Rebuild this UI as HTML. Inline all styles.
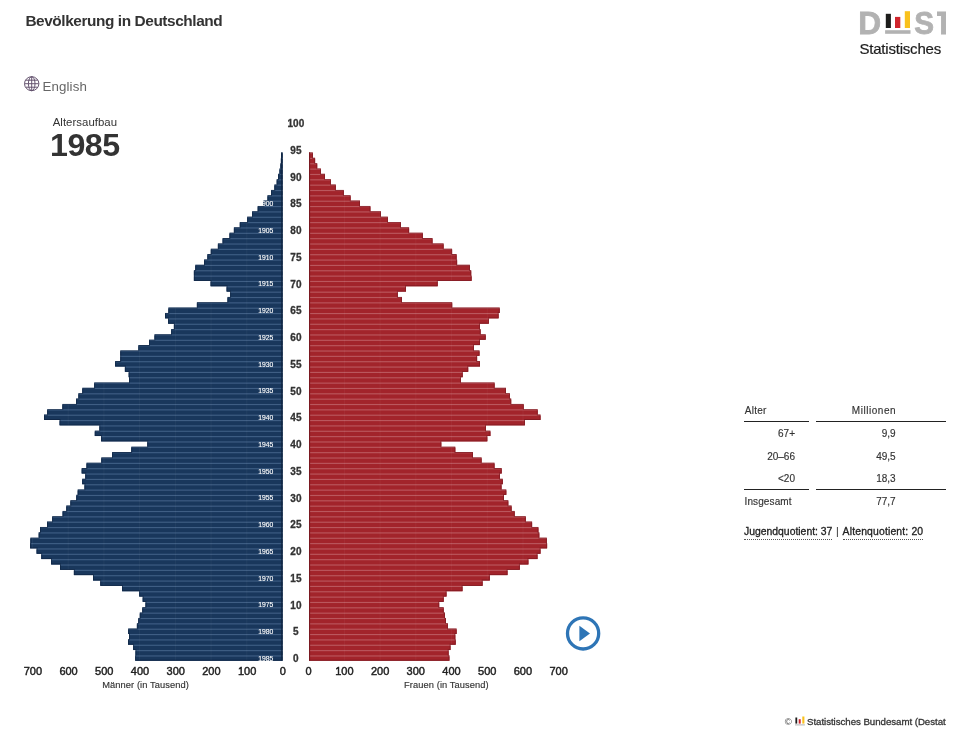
<!DOCTYPE html>
<html lang="de">
<head>
<meta charset="utf-8">
<title>Bevölkerung in Deutschland</title>
<style>
html,body{margin:0;padding:0;background:#fff;}
body{width:964px;height:750px;overflow:hidden;position:relative;font-family:"Liberation Sans",sans-serif;color:#333;}
#wrap{position:absolute;left:0;top:0;width:946px;height:750px;overflow:hidden;will-change:transform;}
.abs{position:absolute;white-space:nowrap;line-height:1;}
h1{margin:0;font-size:15.4px;font-weight:bold;letter-spacing:-0.42px;color:#333;}
.chart{position:absolute;left:0;top:0;}
.chart text{font-family:"Liberation Sans",sans-serif;}
.yl text{font-size:6.8px;fill:#fff;text-anchor:end;stroke:#fff;stroke-width:0.12px;}
.al text{font-size:10px;font-weight:bold;fill:#333;text-anchor:middle;stroke:#333;stroke-width:0.3px;}
.xl text{font-size:11px;fill:#222;text-anchor:middle;stroke:#222;stroke-width:0.45px;}
.xt{font-size:9.3px;fill:#333;text-anchor:middle;letter-spacing:0.08px;stroke:#333;stroke-width:0.15px;}
table{border-collapse:separate;border-spacing:7px 0;font-size:10px;color:#333;table-layout:fixed;width:215.4px;-webkit-text-stroke:0.15px #333;}
td,th{font-weight:normal;padding:1.6px 0 0 0;height:21.1px;vertical-align:middle;box-sizing:content-box;}
.l{text-align:left;}.r{text-align:right;}
.bb{border-bottom:1.2px solid #222;height:19.9px;}
.pa{padding-right:14.4px;}.pm{padding-right:49.9px;}
.q{border-bottom:1px dotted #555;padding-bottom:2px;-webkit-text-stroke:0.3px #222;}
</style>
</head>
<body>
<div id="wrap">
<h1 class="abs" style="left:25.4px;top:12.5px;">Bevölkerung in Deutschland</h1>

<svg class="abs" style="left:855px;top:5px;" width="120" height="60" viewBox="855 5 120 60">
<defs><clipPath id="ct"><rect x="937" y="0" width="40" height="60"/></clipPath></defs>
<g font-family="Liberation Sans, sans-serif" font-weight="bold" font-size="31.7" fill="#b2b2b2" stroke="#b2b2b2" stroke-width="0.8" stroke-linejoin="miter">
<text x="858.3" y="34" textLength="22.9" lengthAdjust="spacingAndGlyphs">D</text>
<text x="914.3" y="34" textLength="19.8" lengthAdjust="spacingAndGlyphs">S</text>
<text x="934" y="34" clip-path="url(#ct)">T</text>
</g>
<rect x="885.8" y="13.8" width="5.1" height="14.2" fill="#1d1d1b"/>
<rect x="895" y="16.9" width="5.3" height="11.1" fill="#d0252d"/>
<rect x="904.8" y="11.2" width="5.2" height="16.8" fill="#f9c11d"/>
<rect x="885.1" y="30.2" width="25.4" height="3.6" fill="#b2b2b2"/>
<text x="859.4" y="53.5" font-family="Liberation Sans, sans-serif" font-size="15" fill="#1c1c1c" stroke="#1c1c1c" stroke-width="0.2" letter-spacing="-0.2">Statistisches</text>
</svg>

<svg class="abs" style="left:23px;top:75px;" width="17" height="17" viewBox="0 0 17 17" fill="none" stroke="#5f4d69" stroke-width="0.95">
<ellipse cx="8.7" cy="8.7" rx="7.2" ry="7"/>
<ellipse cx="8.7" cy="8.7" rx="3.3" ry="7"/>
<line x1="8.7" y1="1.7" x2="8.7" y2="15.7"/>
<line x1="1.7" y1="8.7" x2="15.7" y2="8.7"/>
<path d="M2.7 5.2 H14.7 M2.7 12.2 H14.7"/>
</svg>
<div class="abs" style="left:42.5px;top:79.6px;font-size:13.3px;color:#666;letter-spacing:0.12px;">English</div>

<div class="abs" style="left:52.7px;top:116.7px;font-size:11.4px;color:#333;letter-spacing:0.04px;">Altersaufbau</div>
<div class="abs" style="left:50px;top:129px;font-size:32.2px;font-weight:bold;color:#333;letter-spacing:-0.5px;">1985</div>

<svg class="chart" width="964" height="750" viewBox="0 0 964 750">
<defs><clipPath id="cm">
<rect x="135.2" y="655.35" width="147.3" height="5.35"/>
<rect x="135.5" y="650" width="147" height="5.35"/>
<rect x="133.2" y="644.65" width="149.3" height="5.35"/>
<rect x="128" y="639.3" width="154.5" height="5.35"/>
<rect x="129" y="633.95" width="153.5" height="5.35"/>
<rect x="128.2" y="628.6" width="154.3" height="5.35"/>
<rect x="136.9" y="623.25" width="145.6" height="5.35"/>
<rect x="138.3" y="617.9" width="144.2" height="5.35"/>
<rect x="139.8" y="612.55" width="142.7" height="5.35"/>
<rect x="142.3" y="607.2" width="140.2" height="5.35"/>
<rect x="145.5" y="601.85" width="137" height="5.35"/>
<rect x="142.7" y="596.5" width="139.8" height="5.35"/>
<rect x="139.2" y="591.15" width="143.3" height="5.35"/>
<rect x="122.1" y="585.8" width="160.4" height="5.35"/>
<rect x="100.3" y="580.45" width="182.2" height="5.35"/>
<rect x="93" y="575.1" width="189.5" height="5.35"/>
<rect x="73.9" y="569.75" width="208.6" height="5.35"/>
<rect x="60" y="564.4" width="222.5" height="5.35"/>
<rect x="51.1" y="559.05" width="231.4" height="5.35"/>
<rect x="41.3" y="553.7" width="241.2" height="5.35"/>
<rect x="36.6" y="548.35" width="245.9" height="5.35"/>
<rect x="30.1" y="543" width="252.4" height="5.35"/>
<rect x="30.4" y="537.65" width="252.1" height="5.35"/>
<rect x="38.7" y="532.3" width="243.8" height="5.35"/>
<rect x="40" y="526.95" width="242.5" height="5.35"/>
<rect x="47" y="521.6" width="235.5" height="5.35"/>
<rect x="52.2" y="516.25" width="230.3" height="5.35"/>
<rect x="62.6" y="510.9" width="219.9" height="5.35"/>
<rect x="66.3" y="505.55" width="216.2" height="5.35"/>
<rect x="70.4" y="500.2" width="212.1" height="5.35"/>
<rect x="76.3" y="494.85" width="206.2" height="5.35"/>
<rect x="77.7" y="489.5" width="204.8" height="5.35"/>
<rect x="84.5" y="484.15" width="198" height="5.35"/>
<rect x="82.2" y="478.8" width="200.3" height="5.35"/>
<rect x="85.3" y="473.45" width="197.2" height="5.35"/>
<rect x="81.7" y="468.1" width="200.8" height="5.35"/>
<rect x="86.5" y="462.75" width="196" height="5.35"/>
<rect x="101.3" y="457.4" width="181.2" height="5.35"/>
<rect x="112.1" y="452.05" width="170.4" height="5.35"/>
<rect x="131.3" y="446.7" width="151.2" height="5.35"/>
<rect x="147.3" y="441.35" width="135.2" height="5.35"/>
<rect x="101.1" y="436" width="181.4" height="5.35"/>
<rect x="94.8" y="430.65" width="187.7" height="5.35"/>
<rect x="99.4" y="425.3" width="183.1" height="5.35"/>
<rect x="59.6" y="419.95" width="222.9" height="5.35"/>
<rect x="44" y="414.6" width="238.5" height="5.35"/>
<rect x="47.2" y="409.25" width="235.3" height="5.35"/>
<rect x="62.4" y="403.9" width="220.1" height="5.35"/>
<rect x="76.1" y="398.55" width="206.4" height="5.35"/>
<rect x="78.4" y="393.2" width="204.1" height="5.35"/>
<rect x="82.3" y="387.85" width="200.2" height="5.35"/>
<rect x="94.2" y="382.5" width="188.3" height="5.35"/>
<rect x="129" y="377.15" width="153.5" height="5.35"/>
<rect x="128.7" y="371.8" width="153.8" height="5.35"/>
<rect x="124.9" y="366.45" width="157.6" height="5.35"/>
<rect x="115.1" y="361.1" width="167.4" height="5.35"/>
<rect x="120.3" y="355.75" width="162.2" height="5.35"/>
<rect x="120.3" y="350.4" width="162.2" height="5.35"/>
<rect x="138.4" y="345.05" width="144.1" height="5.35"/>
<rect x="149" y="339.7" width="133.5" height="5.35"/>
<rect x="154.5" y="334.35" width="128" height="5.35"/>
<rect x="171.2" y="329" width="111.3" height="5.35"/>
<rect x="173.9" y="323.65" width="108.6" height="5.35"/>
<rect x="168.1" y="318.3" width="114.4" height="5.35"/>
<rect x="165" y="312.95" width="117.5" height="5.35"/>
<rect x="168.4" y="307.6" width="114.1" height="5.35"/>
<rect x="196.9" y="302.25" width="85.6" height="5.35"/>
<rect x="227.5" y="296.9" width="55" height="5.35"/>
<rect x="230.2" y="291.55" width="52.3" height="5.35"/>
<rect x="226.6" y="286.2" width="55.9" height="5.35"/>
<rect x="210.6" y="280.85" width="71.9" height="5.35"/>
<rect x="193.9" y="275.5" width="88.6" height="5.35"/>
<rect x="193.9" y="270.15" width="88.6" height="5.35"/>
<rect x="195.3" y="264.8" width="87.2" height="5.35"/>
<rect x="204.1" y="259.45" width="78.4" height="5.35"/>
<rect x="207.4" y="254.1" width="75.1" height="5.35"/>
<rect x="210.8" y="248.75" width="71.7" height="5.35"/>
<rect x="217.9" y="243.4" width="64.6" height="5.35"/>
<rect x="222.6" y="238.05" width="59.9" height="5.35"/>
<rect x="229.5" y="232.7" width="53" height="5.35"/>
<rect x="233.9" y="227.35" width="48.6" height="5.35"/>
<rect x="239.8" y="222" width="42.7" height="5.35"/>
<rect x="247.2" y="216.65" width="35.3" height="5.35"/>
<rect x="252.1" y="211.3" width="30.4" height="5.35"/>
<rect x="257.7" y="205.95" width="24.8" height="5.35"/>
<rect x="263.5" y="200.6" width="19" height="5.35"/>
<rect x="267.5" y="195.25" width="15" height="5.35"/>
<rect x="271.1" y="189.9" width="11.4" height="5.35"/>
<rect x="274.4" y="184.55" width="8.1" height="5.35"/>
<rect x="276.7" y="179.2" width="5.8" height="5.35"/>
<rect x="278.1" y="173.85" width="4.4" height="5.35"/>
<rect x="279.5" y="168.5" width="3" height="5.35"/>
<rect x="280.4" y="163.15" width="2.1" height="5.35"/>
<rect x="280.9" y="157.8" width="1.6" height="5.35"/>
<rect x="281.2" y="152.45" width="1.3" height="5.35"/>
</clipPath><clipPath id="cf">
<rect x="309" y="655.35" width="140.4" height="5.35"/>
<rect x="309" y="650" width="139.6" height="5.35"/>
<rect x="309" y="644.65" width="141.5" height="5.35"/>
<rect x="309" y="639.3" width="146.7" height="5.35"/>
<rect x="309" y="633.95" width="146.3" height="5.35"/>
<rect x="309" y="628.6" width="147.6" height="5.35"/>
<rect x="309" y="623.25" width="138.9" height="5.35"/>
<rect x="309" y="617.9" width="137" height="5.35"/>
<rect x="309" y="612.55" width="136" height="5.35"/>
<rect x="309" y="607.2" width="134.7" height="5.35"/>
<rect x="309" y="601.85" width="130.2" height="5.35"/>
<rect x="309" y="596.5" width="134.7" height="5.35"/>
<rect x="309" y="591.15" width="137.5" height="5.35"/>
<rect x="309" y="585.8" width="153.5" height="5.35"/>
<rect x="309" y="580.45" width="173.6" height="5.35"/>
<rect x="309" y="575.1" width="180.8" height="5.35"/>
<rect x="309" y="569.75" width="198.5" height="5.35"/>
<rect x="309" y="564.4" width="210.8" height="5.35"/>
<rect x="309" y="559.05" width="219.4" height="5.35"/>
<rect x="309" y="553.7" width="228.5" height="5.35"/>
<rect x="309" y="548.35" width="231.5" height="5.35"/>
<rect x="309" y="543" width="238.1" height="5.35"/>
<rect x="309" y="537.65" width="237.8" height="5.35"/>
<rect x="309" y="532.3" width="230.3" height="5.35"/>
<rect x="309" y="526.95" width="229.4" height="5.35"/>
<rect x="309" y="521.6" width="223.1" height="5.35"/>
<rect x="309" y="516.25" width="216.8" height="5.35"/>
<rect x="309" y="510.9" width="205.7" height="5.35"/>
<rect x="309" y="505.55" width="202.6" height="5.35"/>
<rect x="309" y="500.2" width="199.3" height="5.35"/>
<rect x="309" y="494.85" width="195" height="5.35"/>
<rect x="309" y="489.5" width="197.3" height="5.35"/>
<rect x="309" y="484.15" width="192.5" height="5.35"/>
<rect x="309" y="478.8" width="193.8" height="5.35"/>
<rect x="309" y="473.45" width="191" height="5.35"/>
<rect x="309" y="468.1" width="192.7" height="5.35"/>
<rect x="309" y="462.75" width="185.5" height="5.35"/>
<rect x="309" y="457.4" width="172.6" height="5.35"/>
<rect x="309" y="452.05" width="164" height="5.35"/>
<rect x="309" y="446.7" width="146.3" height="5.35"/>
<rect x="309" y="441.35" width="132.3" height="5.35"/>
<rect x="309" y="436" width="178.3" height="5.35"/>
<rect x="309" y="430.65" width="181.4" height="5.35"/>
<rect x="309" y="425.3" width="177" height="5.35"/>
<rect x="309" y="419.95" width="215.9" height="5.35"/>
<rect x="309" y="414.6" width="231.5" height="5.35"/>
<rect x="309" y="409.25" width="228.7" height="5.35"/>
<rect x="309" y="403.9" width="214.7" height="5.35"/>
<rect x="309" y="398.55" width="202.2" height="5.35"/>
<rect x="309" y="393.2" width="200.9" height="5.35"/>
<rect x="309" y="387.85" width="197" height="5.35"/>
<rect x="309" y="382.5" width="185.6" height="5.35"/>
<rect x="309" y="377.15" width="151.9" height="5.35"/>
<rect x="309" y="371.8" width="153.7" height="5.35"/>
<rect x="309" y="366.45" width="159.2" height="5.35"/>
<rect x="309" y="361.1" width="171" height="5.35"/>
<rect x="309" y="355.75" width="168.1" height="5.35"/>
<rect x="309" y="350.4" width="170.5" height="5.35"/>
<rect x="309" y="345.05" width="165" height="5.35"/>
<rect x="309" y="339.7" width="170.9" height="5.35"/>
<rect x="309" y="334.35" width="176.7" height="5.35"/>
<rect x="309" y="329" width="171.6" height="5.35"/>
<rect x="309" y="323.65" width="170.9" height="5.35"/>
<rect x="309" y="318.3" width="179.8" height="5.35"/>
<rect x="309" y="312.95" width="189.6" height="5.35"/>
<rect x="309" y="307.6" width="190.7" height="5.35"/>
<rect x="309" y="302.25" width="143.2" height="5.35"/>
<rect x="309" y="296.9" width="93" height="5.35"/>
<rect x="309" y="291.55" width="88.8" height="5.35"/>
<rect x="309" y="286.2" width="97" height="5.35"/>
<rect x="309" y="280.85" width="128.7" height="5.35"/>
<rect x="309" y="275.5" width="162.6" height="5.35"/>
<rect x="309" y="270.15" width="162.2" height="5.35"/>
<rect x="309" y="264.8" width="160.9" height="5.35"/>
<rect x="309" y="259.45" width="148.1" height="5.35"/>
<rect x="309" y="254.1" width="147.6" height="5.35"/>
<rect x="309" y="248.75" width="143.1" height="5.35"/>
<rect x="309" y="243.4" width="134.6" height="5.35"/>
<rect x="309" y="238.05" width="123.5" height="5.35"/>
<rect x="309" y="232.7" width="113.8" height="5.35"/>
<rect x="309" y="227.35" width="100.1" height="5.35"/>
<rect x="309" y="222" width="91.9" height="5.35"/>
<rect x="309" y="216.65" width="78.9" height="5.35"/>
<rect x="309" y="211.3" width="72" height="5.35"/>
<rect x="309" y="205.95" width="61.4" height="5.35"/>
<rect x="309" y="200.6" width="51" height="5.35"/>
<rect x="309" y="195.25" width="41.6" height="5.35"/>
<rect x="309" y="189.9" width="34.8" height="5.35"/>
<rect x="309" y="184.55" width="26.8" height="5.35"/>
<rect x="309" y="179.2" width="21.9" height="5.35"/>
<rect x="309" y="173.85" width="16" height="5.35"/>
<rect x="309" y="168.5" width="11.9" height="5.35"/>
<rect x="309" y="163.15" width="8.2" height="5.35"/>
<rect x="309" y="157.8" width="6.1" height="5.35"/>
<rect x="309" y="152.45" width="3.9" height="5.35"/>
</clipPath></defs>
<path d="M282.5 660.7 L135.2 660.7 L135.2 655.35 L135.5 655.35 L135.5 650 L133.2 650 L133.2 644.65 L128 644.65 L128 639.3 L129 639.3 L129 633.95 L128.2 633.95 L128.2 628.6 L136.9 628.6 L136.9 623.25 L138.3 623.25 L138.3 617.9 L139.8 617.9 L139.8 612.55 L142.3 612.55 L142.3 607.2 L145.5 607.2 L145.5 601.85 L142.7 601.85 L142.7 596.5 L139.2 596.5 L139.2 591.15 L122.1 591.15 L122.1 585.8 L100.3 585.8 L100.3 580.45 L93 580.45 L93 575.1 L73.9 575.1 L73.9 569.75 L60 569.75 L60 564.4 L51.1 564.4 L51.1 559.05 L41.3 559.05 L41.3 553.7 L36.6 553.7 L36.6 548.35 L30.1 548.35 L30.1 543 L30.4 543 L30.4 537.65 L38.7 537.65 L38.7 532.3 L40 532.3 L40 526.95 L47 526.95 L47 521.6 L52.2 521.6 L52.2 516.25 L62.6 516.25 L62.6 510.9 L66.3 510.9 L66.3 505.55 L70.4 505.55 L70.4 500.2 L76.3 500.2 L76.3 494.85 L77.7 494.85 L77.7 489.5 L84.5 489.5 L84.5 484.15 L82.2 484.15 L82.2 478.8 L85.3 478.8 L85.3 473.45 L81.7 473.45 L81.7 468.1 L86.5 468.1 L86.5 462.75 L101.3 462.75 L101.3 457.4 L112.1 457.4 L112.1 452.05 L131.3 452.05 L131.3 446.7 L147.3 446.7 L147.3 441.35 L101.1 441.35 L101.1 436 L94.8 436 L94.8 430.65 L99.4 430.65 L99.4 425.3 L59.6 425.3 L59.6 419.95 L44 419.95 L44 414.6 L47.2 414.6 L47.2 409.25 L62.4 409.25 L62.4 403.9 L76.1 403.9 L76.1 398.55 L78.4 398.55 L78.4 393.2 L82.3 393.2 L82.3 387.85 L94.2 387.85 L94.2 382.5 L129 382.5 L129 377.15 L128.7 377.15 L128.7 371.8 L124.9 371.8 L124.9 366.45 L115.1 366.45 L115.1 361.1 L120.3 361.1 L120.3 355.75 L120.3 355.75 L120.3 350.4 L138.4 350.4 L138.4 345.05 L149 345.05 L149 339.7 L154.5 339.7 L154.5 334.35 L171.2 334.35 L171.2 329 L173.9 329 L173.9 323.65 L168.1 323.65 L168.1 318.3 L165 318.3 L165 312.95 L168.4 312.95 L168.4 307.6 L196.9 307.6 L196.9 302.25 L227.5 302.25 L227.5 296.9 L230.2 296.9 L230.2 291.55 L226.6 291.55 L226.6 286.2 L210.6 286.2 L210.6 280.85 L193.9 280.85 L193.9 275.5 L193.9 275.5 L193.9 270.15 L195.3 270.15 L195.3 264.8 L204.1 264.8 L204.1 259.45 L207.4 259.45 L207.4 254.1 L210.8 254.1 L210.8 248.75 L217.9 248.75 L217.9 243.4 L222.6 243.4 L222.6 238.05 L229.5 238.05 L229.5 232.7 L233.9 232.7 L233.9 227.35 L239.8 227.35 L239.8 222 L247.2 222 L247.2 216.65 L252.1 216.65 L252.1 211.3 L257.7 211.3 L257.7 205.95 L263.5 205.95 L263.5 200.6 L267.5 200.6 L267.5 195.25 L271.1 195.25 L271.1 189.9 L274.4 189.9 L274.4 184.55 L276.7 184.55 L276.7 179.2 L278.1 179.2 L278.1 173.85 L279.5 173.85 L279.5 168.5 L280.4 168.5 L280.4 163.15 L280.9 163.15 L280.9 157.8 L281.2 157.8 L281.2 152.45 L282.5 152.45 Z" fill="#3f5e84"/>
<g fill="#19375c">
<rect x="135.2" y="656.55" width="147.3" height="4.2"/>
<rect x="135.5" y="651.2" width="147" height="4.2"/>
<rect x="133.2" y="645.85" width="149.3" height="4.2"/>
<rect x="128" y="640.5" width="154.5" height="4.2"/>
<rect x="129" y="635.15" width="153.5" height="4.2"/>
<rect x="128.2" y="629.8" width="154.3" height="4.2"/>
<rect x="136.9" y="624.45" width="145.6" height="4.2"/>
<rect x="138.3" y="619.1" width="144.2" height="4.2"/>
<rect x="139.8" y="613.75" width="142.7" height="4.2"/>
<rect x="142.3" y="608.4" width="140.2" height="4.2"/>
<rect x="145.5" y="603.05" width="137" height="4.2"/>
<rect x="142.7" y="597.7" width="139.8" height="4.2"/>
<rect x="139.2" y="592.35" width="143.3" height="4.2"/>
<rect x="122.1" y="587" width="160.4" height="4.2"/>
<rect x="100.3" y="581.65" width="182.2" height="4.2"/>
<rect x="93" y="576.3" width="189.5" height="4.2"/>
<rect x="73.9" y="570.95" width="208.6" height="4.2"/>
<rect x="60" y="565.6" width="222.5" height="4.2"/>
<rect x="51.1" y="560.25" width="231.4" height="4.2"/>
<rect x="41.3" y="554.9" width="241.2" height="4.2"/>
<rect x="36.6" y="549.55" width="245.9" height="4.2"/>
<rect x="30.1" y="544.2" width="252.4" height="4.2"/>
<rect x="30.4" y="538.85" width="252.1" height="4.2"/>
<rect x="38.7" y="533.5" width="243.8" height="4.2"/>
<rect x="40" y="528.15" width="242.5" height="4.2"/>
<rect x="47" y="522.8" width="235.5" height="4.2"/>
<rect x="52.2" y="517.45" width="230.3" height="4.2"/>
<rect x="62.6" y="512.1" width="219.9" height="4.2"/>
<rect x="66.3" y="506.75" width="216.2" height="4.2"/>
<rect x="70.4" y="501.4" width="212.1" height="4.2"/>
<rect x="76.3" y="496.05" width="206.2" height="4.2"/>
<rect x="77.7" y="490.7" width="204.8" height="4.2"/>
<rect x="84.5" y="485.35" width="198" height="4.2"/>
<rect x="82.2" y="480" width="200.3" height="4.2"/>
<rect x="85.3" y="474.65" width="197.2" height="4.2"/>
<rect x="81.7" y="469.3" width="200.8" height="4.2"/>
<rect x="86.5" y="463.95" width="196" height="4.2"/>
<rect x="101.3" y="458.6" width="181.2" height="4.2"/>
<rect x="112.1" y="453.25" width="170.4" height="4.2"/>
<rect x="131.3" y="447.9" width="151.2" height="4.2"/>
<rect x="147.3" y="442.55" width="135.2" height="4.2"/>
<rect x="101.1" y="437.2" width="181.4" height="4.2"/>
<rect x="94.8" y="431.85" width="187.7" height="4.2"/>
<rect x="99.4" y="426.5" width="183.1" height="4.2"/>
<rect x="59.6" y="421.15" width="222.9" height="4.2"/>
<rect x="44" y="415.8" width="238.5" height="4.2"/>
<rect x="47.2" y="410.45" width="235.3" height="4.2"/>
<rect x="62.4" y="405.1" width="220.1" height="4.2"/>
<rect x="76.1" y="399.75" width="206.4" height="4.2"/>
<rect x="78.4" y="394.4" width="204.1" height="4.2"/>
<rect x="82.3" y="389.05" width="200.2" height="4.2"/>
<rect x="94.2" y="383.7" width="188.3" height="4.2"/>
<rect x="129" y="378.35" width="153.5" height="4.2"/>
<rect x="128.7" y="373" width="153.8" height="4.2"/>
<rect x="124.9" y="367.65" width="157.6" height="4.2"/>
<rect x="115.1" y="362.3" width="167.4" height="4.2"/>
<rect x="120.3" y="356.95" width="162.2" height="4.2"/>
<rect x="120.3" y="351.6" width="162.2" height="4.2"/>
<rect x="138.4" y="346.25" width="144.1" height="4.2"/>
<rect x="149" y="340.9" width="133.5" height="4.2"/>
<rect x="154.5" y="335.55" width="128" height="4.2"/>
<rect x="171.2" y="330.2" width="111.3" height="4.2"/>
<rect x="173.9" y="324.85" width="108.6" height="4.2"/>
<rect x="168.1" y="319.5" width="114.4" height="4.2"/>
<rect x="165" y="314.15" width="117.5" height="4.2"/>
<rect x="168.4" y="308.8" width="114.1" height="4.2"/>
<rect x="196.9" y="303.45" width="85.6" height="4.2"/>
<rect x="227.5" y="298.1" width="55" height="4.2"/>
<rect x="230.2" y="292.75" width="52.3" height="4.2"/>
<rect x="226.6" y="287.4" width="55.9" height="4.2"/>
<rect x="210.6" y="282.05" width="71.9" height="4.2"/>
<rect x="193.9" y="276.7" width="88.6" height="4.2"/>
<rect x="193.9" y="271.35" width="88.6" height="4.2"/>
<rect x="195.3" y="266" width="87.2" height="4.2"/>
<rect x="204.1" y="260.65" width="78.4" height="4.2"/>
<rect x="207.4" y="255.3" width="75.1" height="4.2"/>
<rect x="210.8" y="249.95" width="71.7" height="4.2"/>
<rect x="217.9" y="244.6" width="64.6" height="4.2"/>
<rect x="222.6" y="239.25" width="59.9" height="4.2"/>
<rect x="229.5" y="233.9" width="53" height="4.2"/>
<rect x="233.9" y="228.55" width="48.6" height="4.2"/>
<rect x="239.8" y="223.2" width="42.7" height="4.2"/>
<rect x="247.2" y="217.85" width="35.3" height="4.2"/>
<rect x="252.1" y="212.5" width="30.4" height="4.2"/>
<rect x="257.7" y="207.15" width="24.8" height="4.2"/>
<rect x="263.5" y="201.8" width="19" height="4.2"/>
<rect x="267.5" y="196.45" width="15" height="4.2"/>
<rect x="271.1" y="191.1" width="11.4" height="4.2"/>
<rect x="274.4" y="185.75" width="8.1" height="4.2"/>
<rect x="276.7" y="180.4" width="5.8" height="4.2"/>
<rect x="278.1" y="175.05" width="4.4" height="4.2"/>
<rect x="279.5" y="169.7" width="3" height="4.2"/>
<rect x="280.4" y="164.35" width="2.1" height="4.2"/>
<rect x="280.9" y="159" width="1.6" height="4.2"/>
<rect x="281.2" y="153.65" width="1.3" height="4.2"/>
</g>
<path d="M309 660.7 L449.4 660.7 L449.4 655.35 L448.6 655.35 L448.6 650 L450.5 650 L450.5 644.65 L455.7 644.65 L455.7 639.3 L455.3 639.3 L455.3 633.95 L456.6 633.95 L456.6 628.6 L447.9 628.6 L447.9 623.25 L446 623.25 L446 617.9 L445 617.9 L445 612.55 L443.7 612.55 L443.7 607.2 L439.2 607.2 L439.2 601.85 L443.7 601.85 L443.7 596.5 L446.5 596.5 L446.5 591.15 L462.5 591.15 L462.5 585.8 L482.6 585.8 L482.6 580.45 L489.8 580.45 L489.8 575.1 L507.5 575.1 L507.5 569.75 L519.8 569.75 L519.8 564.4 L528.4 564.4 L528.4 559.05 L537.5 559.05 L537.5 553.7 L540.5 553.7 L540.5 548.35 L547.1 548.35 L547.1 543 L546.8 543 L546.8 537.65 L539.3 537.65 L539.3 532.3 L538.4 532.3 L538.4 526.95 L532.1 526.95 L532.1 521.6 L525.8 521.6 L525.8 516.25 L514.7 516.25 L514.7 510.9 L511.6 510.9 L511.6 505.55 L508.3 505.55 L508.3 500.2 L504 500.2 L504 494.85 L506.3 494.85 L506.3 489.5 L501.5 489.5 L501.5 484.15 L502.8 484.15 L502.8 478.8 L500 478.8 L500 473.45 L501.7 473.45 L501.7 468.1 L494.5 468.1 L494.5 462.75 L481.6 462.75 L481.6 457.4 L473 457.4 L473 452.05 L455.3 452.05 L455.3 446.7 L441.3 446.7 L441.3 441.35 L487.3 441.35 L487.3 436 L490.4 436 L490.4 430.65 L486 430.65 L486 425.3 L524.9 425.3 L524.9 419.95 L540.5 419.95 L540.5 414.6 L537.7 414.6 L537.7 409.25 L523.7 409.25 L523.7 403.9 L511.2 403.9 L511.2 398.55 L509.9 398.55 L509.9 393.2 L506 393.2 L506 387.85 L494.6 387.85 L494.6 382.5 L460.9 382.5 L460.9 377.15 L462.7 377.15 L462.7 371.8 L468.2 371.8 L468.2 366.45 L480 366.45 L480 361.1 L477.1 361.1 L477.1 355.75 L479.5 355.75 L479.5 350.4 L474 350.4 L474 345.05 L479.9 345.05 L479.9 339.7 L485.7 339.7 L485.7 334.35 L480.6 334.35 L480.6 329 L479.9 329 L479.9 323.65 L488.8 323.65 L488.8 318.3 L498.6 318.3 L498.6 312.95 L499.7 312.95 L499.7 307.6 L452.2 307.6 L452.2 302.25 L402 302.25 L402 296.9 L397.8 296.9 L397.8 291.55 L406 291.55 L406 286.2 L437.7 286.2 L437.7 280.85 L471.6 280.85 L471.6 275.5 L471.2 275.5 L471.2 270.15 L469.9 270.15 L469.9 264.8 L457.1 264.8 L457.1 259.45 L456.6 259.45 L456.6 254.1 L452.1 254.1 L452.1 248.75 L443.6 248.75 L443.6 243.4 L432.5 243.4 L432.5 238.05 L422.8 238.05 L422.8 232.7 L409.1 232.7 L409.1 227.35 L400.9 227.35 L400.9 222 L387.9 222 L387.9 216.65 L381 216.65 L381 211.3 L370.4 211.3 L370.4 205.95 L360 205.95 L360 200.6 L350.6 200.6 L350.6 195.25 L343.8 195.25 L343.8 189.9 L335.8 189.9 L335.8 184.55 L330.9 184.55 L330.9 179.2 L325 179.2 L325 173.85 L320.9 173.85 L320.9 168.5 L317.2 168.5 L317.2 163.15 L315.1 163.15 L315.1 157.8 L312.9 157.8 L312.9 152.45 L309 152.45 Z" fill="#ba575d"/>
<g fill="#a2242b">
<rect x="309" y="656.55" width="140.4" height="4.2"/>
<rect x="309" y="651.2" width="139.6" height="4.2"/>
<rect x="309" y="645.85" width="141.5" height="4.2"/>
<rect x="309" y="640.5" width="146.7" height="4.2"/>
<rect x="309" y="635.15" width="146.3" height="4.2"/>
<rect x="309" y="629.8" width="147.6" height="4.2"/>
<rect x="309" y="624.45" width="138.9" height="4.2"/>
<rect x="309" y="619.1" width="137" height="4.2"/>
<rect x="309" y="613.75" width="136" height="4.2"/>
<rect x="309" y="608.4" width="134.7" height="4.2"/>
<rect x="309" y="603.05" width="130.2" height="4.2"/>
<rect x="309" y="597.7" width="134.7" height="4.2"/>
<rect x="309" y="592.35" width="137.5" height="4.2"/>
<rect x="309" y="587" width="153.5" height="4.2"/>
<rect x="309" y="581.65" width="173.6" height="4.2"/>
<rect x="309" y="576.3" width="180.8" height="4.2"/>
<rect x="309" y="570.95" width="198.5" height="4.2"/>
<rect x="309" y="565.6" width="210.8" height="4.2"/>
<rect x="309" y="560.25" width="219.4" height="4.2"/>
<rect x="309" y="554.9" width="228.5" height="4.2"/>
<rect x="309" y="549.55" width="231.5" height="4.2"/>
<rect x="309" y="544.2" width="238.1" height="4.2"/>
<rect x="309" y="538.85" width="237.8" height="4.2"/>
<rect x="309" y="533.5" width="230.3" height="4.2"/>
<rect x="309" y="528.15" width="229.4" height="4.2"/>
<rect x="309" y="522.8" width="223.1" height="4.2"/>
<rect x="309" y="517.45" width="216.8" height="4.2"/>
<rect x="309" y="512.1" width="205.7" height="4.2"/>
<rect x="309" y="506.75" width="202.6" height="4.2"/>
<rect x="309" y="501.4" width="199.3" height="4.2"/>
<rect x="309" y="496.05" width="195" height="4.2"/>
<rect x="309" y="490.7" width="197.3" height="4.2"/>
<rect x="309" y="485.35" width="192.5" height="4.2"/>
<rect x="309" y="480" width="193.8" height="4.2"/>
<rect x="309" y="474.65" width="191" height="4.2"/>
<rect x="309" y="469.3" width="192.7" height="4.2"/>
<rect x="309" y="463.95" width="185.5" height="4.2"/>
<rect x="309" y="458.6" width="172.6" height="4.2"/>
<rect x="309" y="453.25" width="164" height="4.2"/>
<rect x="309" y="447.9" width="146.3" height="4.2"/>
<rect x="309" y="442.55" width="132.3" height="4.2"/>
<rect x="309" y="437.2" width="178.3" height="4.2"/>
<rect x="309" y="431.85" width="181.4" height="4.2"/>
<rect x="309" y="426.5" width="177" height="4.2"/>
<rect x="309" y="421.15" width="215.9" height="4.2"/>
<rect x="309" y="415.8" width="231.5" height="4.2"/>
<rect x="309" y="410.45" width="228.7" height="4.2"/>
<rect x="309" y="405.1" width="214.7" height="4.2"/>
<rect x="309" y="399.75" width="202.2" height="4.2"/>
<rect x="309" y="394.4" width="200.9" height="4.2"/>
<rect x="309" y="389.05" width="197" height="4.2"/>
<rect x="309" y="383.7" width="185.6" height="4.2"/>
<rect x="309" y="378.35" width="151.9" height="4.2"/>
<rect x="309" y="373" width="153.7" height="4.2"/>
<rect x="309" y="367.65" width="159.2" height="4.2"/>
<rect x="309" y="362.3" width="171" height="4.2"/>
<rect x="309" y="356.95" width="168.1" height="4.2"/>
<rect x="309" y="351.6" width="170.5" height="4.2"/>
<rect x="309" y="346.25" width="165" height="4.2"/>
<rect x="309" y="340.9" width="170.9" height="4.2"/>
<rect x="309" y="335.55" width="176.7" height="4.2"/>
<rect x="309" y="330.2" width="171.6" height="4.2"/>
<rect x="309" y="324.85" width="170.9" height="4.2"/>
<rect x="309" y="319.5" width="179.8" height="4.2"/>
<rect x="309" y="314.15" width="189.6" height="4.2"/>
<rect x="309" y="308.8" width="190.7" height="4.2"/>
<rect x="309" y="303.45" width="143.2" height="4.2"/>
<rect x="309" y="298.1" width="93" height="4.2"/>
<rect x="309" y="292.75" width="88.8" height="4.2"/>
<rect x="309" y="287.4" width="97" height="4.2"/>
<rect x="309" y="282.05" width="128.7" height="4.2"/>
<rect x="309" y="276.7" width="162.6" height="4.2"/>
<rect x="309" y="271.35" width="162.2" height="4.2"/>
<rect x="309" y="266" width="160.9" height="4.2"/>
<rect x="309" y="260.65" width="148.1" height="4.2"/>
<rect x="309" y="255.3" width="147.6" height="4.2"/>
<rect x="309" y="249.95" width="143.1" height="4.2"/>
<rect x="309" y="244.6" width="134.6" height="4.2"/>
<rect x="309" y="239.25" width="123.5" height="4.2"/>
<rect x="309" y="233.9" width="113.8" height="4.2"/>
<rect x="309" y="228.55" width="100.1" height="4.2"/>
<rect x="309" y="223.2" width="91.9" height="4.2"/>
<rect x="309" y="217.85" width="78.9" height="4.2"/>
<rect x="309" y="212.5" width="72" height="4.2"/>
<rect x="309" y="207.15" width="61.4" height="4.2"/>
<rect x="309" y="201.8" width="51" height="4.2"/>
<rect x="309" y="196.45" width="41.6" height="4.2"/>
<rect x="309" y="191.1" width="34.8" height="4.2"/>
<rect x="309" y="185.75" width="26.8" height="4.2"/>
<rect x="309" y="180.4" width="21.9" height="4.2"/>
<rect x="309" y="175.05" width="16" height="4.2"/>
<rect x="309" y="169.7" width="11.9" height="4.2"/>
<rect x="309" y="164.35" width="8.2" height="4.2"/>
<rect x="309" y="159" width="6.1" height="4.2"/>
<rect x="309" y="153.65" width="3.9" height="4.2"/>
</g>
<g clip-path="url(#cm)" stroke="#fff" stroke-opacity="0.045" stroke-width="1">
<line x1="246.79" y1="140" x2="246.79" y2="662"/>
<line x1="211.07" y1="140" x2="211.07" y2="662"/>
<line x1="175.36" y1="140" x2="175.36" y2="662"/>
<line x1="139.64" y1="140" x2="139.64" y2="662"/>
<line x1="103.93" y1="140" x2="103.93" y2="662"/>
<line x1="68.22" y1="140" x2="68.22" y2="662"/>
<line x1="32.5" y1="140" x2="32.5" y2="662"/>
</g><g clip-path="url(#cf)" stroke="#fff" stroke-opacity="0.045" stroke-width="1">
<line x1="344.41" y1="140" x2="344.41" y2="662"/>
<line x1="380.13" y1="140" x2="380.13" y2="662"/>
<line x1="415.84" y1="140" x2="415.84" y2="662"/>
<line x1="451.56" y1="140" x2="451.56" y2="662"/>
<line x1="487.27" y1="140" x2="487.27" y2="662"/>
<line x1="522.98" y1="140" x2="522.98" y2="662"/>
<line x1="558.7" y1="140" x2="558.7" y2="662"/>
</g>
<path d="M282.5 660.7 L135.2 660.7 L135.2 655.35 L135.5 655.35 L135.5 650 L133.2 650 L133.2 644.65 L128 644.65 L128 639.3 L129 639.3 L129 633.95 L128.2 633.95 L128.2 628.6 L136.9 628.6 L136.9 623.25 L138.3 623.25 L138.3 617.9 L139.8 617.9 L139.8 612.55 L142.3 612.55 L142.3 607.2 L145.5 607.2 L145.5 601.85 L142.7 601.85 L142.7 596.5 L139.2 596.5 L139.2 591.15 L122.1 591.15 L122.1 585.8 L100.3 585.8 L100.3 580.45 L93 580.45 L93 575.1 L73.9 575.1 L73.9 569.75 L60 569.75 L60 564.4 L51.1 564.4 L51.1 559.05 L41.3 559.05 L41.3 553.7 L36.6 553.7 L36.6 548.35 L30.1 548.35 L30.1 543 L30.4 543 L30.4 537.65 L38.7 537.65 L38.7 532.3 L40 532.3 L40 526.95 L47 526.95 L47 521.6 L52.2 521.6 L52.2 516.25 L62.6 516.25 L62.6 510.9 L66.3 510.9 L66.3 505.55 L70.4 505.55 L70.4 500.2 L76.3 500.2 L76.3 494.85 L77.7 494.85 L77.7 489.5 L84.5 489.5 L84.5 484.15 L82.2 484.15 L82.2 478.8 L85.3 478.8 L85.3 473.45 L81.7 473.45 L81.7 468.1 L86.5 468.1 L86.5 462.75 L101.3 462.75 L101.3 457.4 L112.1 457.4 L112.1 452.05 L131.3 452.05 L131.3 446.7 L147.3 446.7 L147.3 441.35 L101.1 441.35 L101.1 436 L94.8 436 L94.8 430.65 L99.4 430.65 L99.4 425.3 L59.6 425.3 L59.6 419.95 L44 419.95 L44 414.6 L47.2 414.6 L47.2 409.25 L62.4 409.25 L62.4 403.9 L76.1 403.9 L76.1 398.55 L78.4 398.55 L78.4 393.2 L82.3 393.2 L82.3 387.85 L94.2 387.85 L94.2 382.5 L129 382.5 L129 377.15 L128.7 377.15 L128.7 371.8 L124.9 371.8 L124.9 366.45 L115.1 366.45 L115.1 361.1 L120.3 361.1 L120.3 355.75 L120.3 355.75 L120.3 350.4 L138.4 350.4 L138.4 345.05 L149 345.05 L149 339.7 L154.5 339.7 L154.5 334.35 L171.2 334.35 L171.2 329 L173.9 329 L173.9 323.65 L168.1 323.65 L168.1 318.3 L165 318.3 L165 312.95 L168.4 312.95 L168.4 307.6 L196.9 307.6 L196.9 302.25 L227.5 302.25 L227.5 296.9 L230.2 296.9 L230.2 291.55 L226.6 291.55 L226.6 286.2 L210.6 286.2 L210.6 280.85 L193.9 280.85 L193.9 275.5 L193.9 275.5 L193.9 270.15 L195.3 270.15 L195.3 264.8 L204.1 264.8 L204.1 259.45 L207.4 259.45 L207.4 254.1 L210.8 254.1 L210.8 248.75 L217.9 248.75 L217.9 243.4 L222.6 243.4 L222.6 238.05 L229.5 238.05 L229.5 232.7 L233.9 232.7 L233.9 227.35 L239.8 227.35 L239.8 222 L247.2 222 L247.2 216.65 L252.1 216.65 L252.1 211.3 L257.7 211.3 L257.7 205.95 L263.5 205.95 L263.5 200.6 L267.5 200.6 L267.5 195.25 L271.1 195.25 L271.1 189.9 L274.4 189.9 L274.4 184.55 L276.7 184.55 L276.7 179.2 L278.1 179.2 L278.1 173.85 L279.5 173.85 L279.5 168.5 L280.4 168.5 L280.4 163.15 L280.9 163.15 L280.9 157.8 L281.2 157.8 L281.2 152.45 L282.5 152.45 Z" fill="none" stroke="#0e2340" stroke-width="1.7" stroke-opacity="0.75" clip-path="url(#cm)"/>
<path d="M309 660.7 L449.4 660.7 L449.4 655.35 L448.6 655.35 L448.6 650 L450.5 650 L450.5 644.65 L455.7 644.65 L455.7 639.3 L455.3 639.3 L455.3 633.95 L456.6 633.95 L456.6 628.6 L447.9 628.6 L447.9 623.25 L446 623.25 L446 617.9 L445 617.9 L445 612.55 L443.7 612.55 L443.7 607.2 L439.2 607.2 L439.2 601.85 L443.7 601.85 L443.7 596.5 L446.5 596.5 L446.5 591.15 L462.5 591.15 L462.5 585.8 L482.6 585.8 L482.6 580.45 L489.8 580.45 L489.8 575.1 L507.5 575.1 L507.5 569.75 L519.8 569.75 L519.8 564.4 L528.4 564.4 L528.4 559.05 L537.5 559.05 L537.5 553.7 L540.5 553.7 L540.5 548.35 L547.1 548.35 L547.1 543 L546.8 543 L546.8 537.65 L539.3 537.65 L539.3 532.3 L538.4 532.3 L538.4 526.95 L532.1 526.95 L532.1 521.6 L525.8 521.6 L525.8 516.25 L514.7 516.25 L514.7 510.9 L511.6 510.9 L511.6 505.55 L508.3 505.55 L508.3 500.2 L504 500.2 L504 494.85 L506.3 494.85 L506.3 489.5 L501.5 489.5 L501.5 484.15 L502.8 484.15 L502.8 478.8 L500 478.8 L500 473.45 L501.7 473.45 L501.7 468.1 L494.5 468.1 L494.5 462.75 L481.6 462.75 L481.6 457.4 L473 457.4 L473 452.05 L455.3 452.05 L455.3 446.7 L441.3 446.7 L441.3 441.35 L487.3 441.35 L487.3 436 L490.4 436 L490.4 430.65 L486 430.65 L486 425.3 L524.9 425.3 L524.9 419.95 L540.5 419.95 L540.5 414.6 L537.7 414.6 L537.7 409.25 L523.7 409.25 L523.7 403.9 L511.2 403.9 L511.2 398.55 L509.9 398.55 L509.9 393.2 L506 393.2 L506 387.85 L494.6 387.85 L494.6 382.5 L460.9 382.5 L460.9 377.15 L462.7 377.15 L462.7 371.8 L468.2 371.8 L468.2 366.45 L480 366.45 L480 361.1 L477.1 361.1 L477.1 355.75 L479.5 355.75 L479.5 350.4 L474 350.4 L474 345.05 L479.9 345.05 L479.9 339.7 L485.7 339.7 L485.7 334.35 L480.6 334.35 L480.6 329 L479.9 329 L479.9 323.65 L488.8 323.65 L488.8 318.3 L498.6 318.3 L498.6 312.95 L499.7 312.95 L499.7 307.6 L452.2 307.6 L452.2 302.25 L402 302.25 L402 296.9 L397.8 296.9 L397.8 291.55 L406 291.55 L406 286.2 L437.7 286.2 L437.7 280.85 L471.6 280.85 L471.6 275.5 L471.2 275.5 L471.2 270.15 L469.9 270.15 L469.9 264.8 L457.1 264.8 L457.1 259.45 L456.6 259.45 L456.6 254.1 L452.1 254.1 L452.1 248.75 L443.6 248.75 L443.6 243.4 L432.5 243.4 L432.5 238.05 L422.8 238.05 L422.8 232.7 L409.1 232.7 L409.1 227.35 L400.9 227.35 L400.9 222 L387.9 222 L387.9 216.65 L381 216.65 L381 211.3 L370.4 211.3 L370.4 205.95 L360 205.95 L360 200.6 L350.6 200.6 L350.6 195.25 L343.8 195.25 L343.8 189.9 L335.8 189.9 L335.8 184.55 L330.9 184.55 L330.9 179.2 L325 179.2 L325 173.85 L320.9 173.85 L320.9 168.5 L317.2 168.5 L317.2 163.15 L315.1 163.15 L315.1 157.8 L312.9 157.8 L312.9 152.45 L309 152.45 Z" fill="none" stroke="#7a1820" stroke-width="1.7" stroke-opacity="0.75" clip-path="url(#cf)"/>
<rect x="281.4" y="152.45" width="1.1" height="508.25" fill="#0e2340"/>
<rect x="309" y="152.45" width="1.1" height="508.25" fill="#7a1820"/>
<g class="yl">
<text x="273.4" y="660.78">1985</text>
<text x="273.4" y="634.03">1980</text>
<text x="273.4" y="607.28">1975</text>
<text x="273.4" y="580.53">1970</text>
<text x="273.4" y="553.78">1965</text>
<text x="273.4" y="527.03">1960</text>
<text x="273.4" y="500.28">1955</text>
<text x="273.4" y="473.53">1950</text>
<text x="273.4" y="446.78">1945</text>
<text x="273.4" y="420.03">1940</text>
<text x="273.4" y="393.28">1935</text>
<text x="273.4" y="366.53">1930</text>
<text x="273.4" y="339.78">1925</text>
<text x="273.4" y="313.03">1920</text>
<text x="273.4" y="286.28">1915</text>
<text x="273.4" y="259.53">1910</text>
<text x="273.4" y="232.78">1905</text>
<text x="273.4" y="206.03">1900</text>
</g>
<g class="al">
<text x="295.9" y="662.03">0</text>
<text x="295.9" y="635.28">5</text>
<text x="295.9" y="608.53">10</text>
<text x="295.9" y="581.78">15</text>
<text x="295.9" y="555.03">20</text>
<text x="295.9" y="528.28">25</text>
<text x="295.9" y="501.53">30</text>
<text x="295.9" y="474.78">35</text>
<text x="295.9" y="448.03">40</text>
<text x="295.9" y="421.28">45</text>
<text x="295.9" y="394.53">50</text>
<text x="295.9" y="367.78">55</text>
<text x="295.9" y="341.03">60</text>
<text x="295.9" y="314.28">65</text>
<text x="295.9" y="287.53">70</text>
<text x="295.9" y="260.78">75</text>
<text x="295.9" y="234.03">80</text>
<text x="295.9" y="207.28">85</text>
<text x="295.9" y="180.53">90</text>
<text x="295.9" y="153.78">95</text>
<text x="295.9" y="127.03">100</text>
</g>
<g class="xl">
<text x="282.85" y="674.8">0</text>
<text x="308.65" y="674.8">0</text>
<text x="247.14" y="674.8">100</text>
<text x="344.36" y="674.8">100</text>
<text x="211.42" y="674.8">200</text>
<text x="380.08" y="674.8">200</text>
<text x="175.71" y="674.8">300</text>
<text x="415.79" y="674.8">300</text>
<text x="139.99" y="674.8">400</text>
<text x="451.51" y="674.8">400</text>
<text x="104.28" y="674.8">500</text>
<text x="487.22" y="674.8">500</text>
<text x="68.57" y="674.8">600</text>
<text x="522.93" y="674.8">600</text>
<text x="32.85" y="674.8">700</text>
<text x="558.65" y="674.8">700</text>
</g>
<text class="xt" x="145.6" y="688.3">Männer (in Tausend)</text>
<text class="xt" x="446.4" y="688.3">Frauen (in Tausend)</text>
</svg>

<svg class="abs" style="left:564px;top:614px;" width="40" height="40" viewBox="564 614 40 40">
<circle cx="583.1" cy="633.4" r="15.6" fill="#fff" stroke="#2e75b6" stroke-width="3.3"/>
<path d="M579.4 625.8 L590 633.5 L579.4 641.2 Z" fill="#2e75b6"/>
</svg>

<div class="abs" style="left:737.2px;top:399.2px;width:217px;">
<table>
<colgroup><col style="width:65.2px"><col style="width:129.2px"></colgroup>
<tr><th class="l bb"><span style="letter-spacing:0.25px;padding-left:0.6px;">Alter</span></th><th class="r bb"><span class="pm" style="letter-spacing:0.55px;padding-right:49.4px;">Millionen</span></th></tr>
<tr><td class="r"><span class="pa">67+</span></td><td class="r"><span class="pm">9,9</span></td></tr>
<tr><td class="r"><span class="pa">20–66</span></td><td class="r"><span class="pm">49,5</span></td></tr>
<tr><td class="r bb"><span class="pa">&lt;20</span></td><td class="r bb"><span class="pm">18,3</span></td></tr>
<tr><td class="l"><span style="letter-spacing:0.12px;padding-left:0.3px;">Insgesamt</span></td><td class="r"><span class="pm">77,7</span></td></tr>
</table>
</div>

<div class="abs" style="left:744px;top:526.5px;font-size:10.4px;color:#222;">
<span class="q">Jugendquotient: 37</span><span style="padding:0 3.9px 0 3.6px;">|</span><span class="q" style="letter-spacing:0.16px;">Altenquotient: 20</span>
</div>

<div class="abs" style="left:784.8px;top:716.6px;font-size:9.6px;color:#444;">©</div>
<svg class="abs" style="left:795px;top:716px;" width="11" height="11" viewBox="0 0 11 11">
<rect x="0.4" y="1.5" width="1.8" height="6.1" fill="#1d1d1b"/>
<rect x="3.7" y="3.2" width="2" height="4.4" fill="#d0252d"/>
<rect x="7.3" y="0.5" width="2.1" height="7.1" fill="#f9c11d"/>
<rect x="0" y="8.4" width="9.9" height="1" fill="#b2b2b2"/>
</svg>
<div id="ft" class="abs" style="left:807.3px;top:716.8px;font-size:9.8px;color:#333;-webkit-text-stroke:0.3px #333;letter-spacing:-0.05px;transform:scaleX(0.990);transform-origin:0 0;">Statistisches Bundesamt (Destatis), 2024</div>
</div>
</body>
</html>
